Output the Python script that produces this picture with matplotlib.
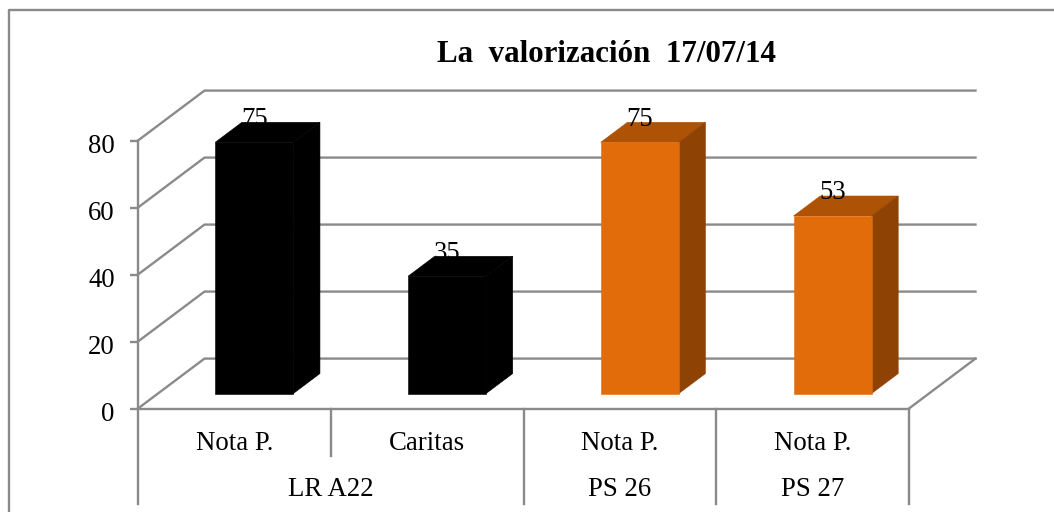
import matplotlib.pyplot as plt
from matplotlib.lines import Line2D
from matplotlib.transforms import ScaledTranslation

plt.rcParams['font.family'] = ['Liberation Serif', 'DejaVu Serif']

title = 'La  valorización  17/07/14'
categories = ['Nota P.', 'Caritas', 'Nota P.', 'Nota P.']
values = [75, 35, 75, 53]
groups = ['LR A22', 'PS 26', 'PS 27']
group_spans = [(0, 2), (2, 3), (3, 4)]
y_ticks = [0, 20, 40, 60, 80]

# front, top, side colour per bar
black_faces = ('#000000', '#000000', '#000000')
orange_faces = ('#E36C0A', '#AE5206', '#8E4305')
bar_faces = [black_faces, black_faces, orange_faces, orange_faces]

W, H = 1054, 512
grid_color = '#8A8A8A'
line_w = 1.7
font_size = 19.3

# fake 3d depth, in data units
depth_x = 0.345
depth_y = 14.9
bar_w = 0.405
depth_front = 0.3
depth_back = 0.7
label_gap = 6.9


def project(x, v, f):
    return x + f * depth_x, v + f * depth_y


fig = plt.figure(figsize=(W / 100, H / 100), dpi=100)

# chart border, there is no right or bottom edge in the picture
border_x = [8.5 / W, 8.5 / W, 1.0]
border_y = [0.0, 1 - 9.5 / H, 1 - 9.5 / H]
fig.add_artist(Line2D(border_x, border_y, transform=fig.transFigure,
                      color=grid_color, lw=line_w))

ax = fig.add_axes([138 / W, (H - 408.5) / H, (909 - 138) / W, 268 / H])
ax.set_xlim(0, 4)
ax.set_ylim(0, 80)
ax.patch.set_visible(False)
for side in ['top', 'right']:
    ax.spines[side].set_visible(False)
for side in ['left', 'bottom']:
    ax.spines[side].set_color(grid_color)
    ax.spines[side].set_linewidth(line_w)

ax.set_yticks(y_ticks)
ax.tick_params(axis='y', length=5.8, width=line_w, color=grid_color, labelsize=font_size, pad=11)
for label in ax.get_yticklabels():
    label.set_transform(label.get_transform() + ScaledTranslation(0, -3 / 100, fig.dpi_scale_trans))
ax.set_xticks([i + 0.5 for i in range(len(categories))])
ax.set_xticklabels(categories)
ax.tick_params(axis='x', length=0, labelsize=font_size, pad=16)

# walls and gridlines
for v in y_ticks:
    x0, y0 = project(0, v, 1)
    x1, y1 = project(4, v, 1)
    ax.plot([0, x0, x1], [v, y0, y1], color=grid_color, lw=line_w, clip_on=False, zorder=1)
x1, y1 = project(4, 0, 1)
ax.plot([4, x1], [0, y1], color=grid_color, lw=line_w, clip_on=False, zorder=1)

# category separators below the axis
for x in [0, 2, 3, 4]:
    ax.plot([x, x], [0, -28.4], color=grid_color, lw=line_w, clip_on=False, zorder=1)
ax.plot([1, 1], [0, -14.2], color=grid_color, lw=line_w, clip_on=False, zorder=1)

for name, (a, b) in zip(groups, group_spans):
    ax.text((a + b) / 2, -24.2, name, ha='center', va='center', fontsize=font_size)

for i, v in enumerate(values):
    front, top, side = bar_faces[i]
    left = i + 0.5 - bar_w / 2
    right = i + 0.5 + bar_w / 2

    lb = project(left, 0, depth_front)
    rb = project(right, 0, depth_front)
    lt = project(left, v, depth_front)
    rt = project(right, v, depth_front)
    rb2 = project(right, 0, depth_back)
    lt2 = project(left, v, depth_back)
    rt2 = project(right, v, depth_back)

    ax.fill(*zip(lt, rt, rt2, lt2), facecolor=top, edgecolor=top, lw=0.4, clip_on=False, zorder=2)
    ax.fill(*zip(rb, rb2, rt2, rt), facecolor=side, edgecolor=side, lw=0.4, clip_on=False, zorder=2)
    ax.fill(*zip(lb, rb, rt, lt), facecolor=front, edgecolor=front, lw=0.4, clip_on=False, zorder=2)

    ax.text(lt[0] + bar_w / 2, lt[1] + label_gap, str(v), ha='center', va='center',
            fontsize=font_size, color='black', zorder=3)

fig.text(606.5 / W, 1 - 55 / H, title, ha='center', va='center', fontsize=22.3,
         fontweight='bold')

fig.savefig('out.png', dpi=100)
